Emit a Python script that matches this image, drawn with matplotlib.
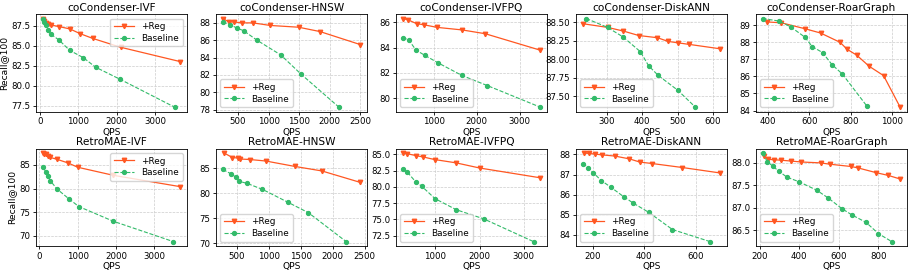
import matplotlib
matplotlib.use("Agg")
import matplotlib.pyplot as plt
from matplotlib.ticker import FormatStrFormatter

titles = ["coCondenser-IVF", "coCondenser-HNSW", "coCondenser-IVFPQ", "coCondenser-DiskANN", "coCondenser-RoarGraph",
          "RetroMAE-IVF", "RetroMAE-HNSW", "RetroMAE-IVFPQ", "RetroMAE-DiskANN", "RetroMAE-RoarGraph"]

# coCondenser-IVF
cc_ivf_reg_x = [80, 120, 170, 220, 280, 490, 780, 1050, 1380, 2100, 3650]
cc_ivf_reg_y = [88.3, 88.1, 87.9, 87.7, 87.6, 87.4, 87.1, 86.5, 85.9, 84.8, 83.0]
cc_ivf_base_x = [80, 110, 150, 220, 300, 500, 780, 1130, 1450, 2080, 3500]
cc_ivf_base_y = [88.4, 88.0, 87.6, 87.0, 86.4, 85.7, 84.4, 83.5, 82.3, 80.8, 77.3]

# coCondenser-HNSW
cc_hnsw_reg_x = [250, 350, 430, 570, 740, 1030, 1490, 1840, 2500]
cc_hnsw_reg_y = [88.5, 88.1, 88.1, 88.0, 88.0, 87.7, 87.5, 87.0, 85.5]
cc_hnsw_base_x = [250, 370, 480, 590, 810, 1200, 1530, 2150]
cc_hnsw_base_y = [88.1, 87.8, 87.4, 87.1, 86.0, 84.3, 82.1, 78.3]

# coCondenser-IVFPQ
cc_ivfpq_reg_x = [280, 400, 600, 780, 1080, 1660, 2200, 3480]
cc_ivfpq_reg_y = [86.3, 86.2, 85.9, 85.8, 85.6, 85.4, 85.1, 83.8]
cc_ivfpq_base_x = [280, 420, 590, 790, 1100, 1660, 2250, 3480]
cc_ivfpq_base_y = [84.8, 84.6, 83.8, 83.4, 82.8, 81.8, 81.0, 79.3]

# coCondenser-DiskANN
cc_disk_reg_x = [232, 302, 347, 390, 443, 473, 502, 532, 620]
cc_disk_reg_y = [88.48, 88.43, 88.38, 88.32, 88.29, 88.24, 88.22, 88.20, 88.14]
cc_disk_base_x = [242, 302, 346, 395, 418, 445, 500, 550]
cc_disk_base_y = [88.55, 88.43, 88.30, 88.10, 87.91, 87.78, 87.58, 87.35]

# coCondenser-RoarGraph
cc_roar_reg_x = [395, 465, 580, 655, 750, 783, 830, 890, 960, 1040]
cc_roar_reg_y = [89.2, 89.15, 88.8, 88.55, 88.0, 87.6, 87.25, 86.6, 86.05, 84.2]
cc_roar_base_x = [375, 455, 512, 580, 615, 665, 710, 760, 880]
cc_roar_base_y = [89.4, 89.25, 88.9, 88.3, 87.75, 87.4, 86.7, 86.15, 84.25]

# RetroMAE-IVF
rm_ivf_reg_x = [90, 130, 170, 230, 270, 450, 750, 1000, 1930, 3680]
rm_ivf_reg_y = [87.5, 87.4, 87.3, 86.9, 86.6, 86.2, 85.4, 84.5, 82.8, 80.4]
rm_ivf_base_x = [100, 160, 220, 280, 460, 760, 1030, 1930, 3500]
rm_ivf_base_y = [84.5, 83.6, 82.6, 81.7, 79.9, 77.9, 76.2, 73.1, 68.8]

# RetroMAE-HNSW
rm_hnsw_reg_x = [300, 430, 510, 550, 700, 950, 1410, 1830, 2430]
rm_hnsw_reg_y = [88.1, 87.2, 87.1, 86.9, 86.8, 86.5, 85.4, 84.5, 82.2]
rm_hnsw_base_x = [280, 410, 490, 540, 660, 900, 1300, 1620, 2210]
rm_hnsw_base_y = [84.8, 83.9, 83.2, 82.4, 82.0, 80.8, 78.2, 76.1, 70.3]

# RetroMAE-IVFPQ
rm_ivfpq_reg_x = [270, 360, 560, 720, 980, 1460, 2000, 3370]
rm_ivfpq_reg_y = [85.2, 85.1, 84.8, 84.6, 84.2, 83.7, 82.9, 81.4]
rm_ivfpq_base_x = [260, 360, 550, 690, 990, 1470, 2090, 3220]
rm_ivfpq_base_y = [82.8, 82.3, 80.8, 80.1, 78.2, 76.5, 75.1, 71.6]

# RetroMAE-DiskANN
rm_disk_reg_x = [165, 185, 207, 234, 285, 342, 383, 430, 549, 696]
rm_disk_reg_y = [88.07, 88.05, 88.02, 87.98, 87.92, 87.78, 87.62, 87.55, 87.35, 87.08]
rm_disk_base_x = [160, 182, 200, 233, 270, 320, 355, 418, 510, 657]
rm_disk_base_y = [87.55, 87.35, 87.1, 86.7, 86.37, 85.9, 85.6, 85.12, 84.27, 83.67]

# RetroMAE-RoarGraph
rm_roar_reg_x = [220, 243, 272, 308, 360, 410, 508, 555, 660, 695, 790, 850, 910]
rm_roar_reg_y = [88.15, 88.08, 88.07, 88.06, 88.04, 88.02, 88.0, 87.97, 87.92, 87.89, 87.78, 87.72, 87.64]
rm_roar_base_x = [215, 238, 268, 298, 338, 398, 488, 545, 615, 665, 738, 800, 868]
rm_roar_base_y = [88.22, 88.03, 87.92, 87.81, 87.68, 87.58, 87.39, 87.22, 86.98, 86.84, 86.67, 86.42, 86.24]

# y tick labels as shown in each panel
yticks = [
    [77.5, 80.0, 82.5, 85.0, 87.5],
    [78, 80, 82, 84, 86, 88],
    [80, 82, 84, 86],
    [87.50, 87.75, 88.00, 88.25, 88.50],
    [84, 85, 86, 87, 88, 89],
    [70, 75, 80, 85],
    [70, 75, 80, 85],
    [72.5, 75.0, 77.5, 80.0, 82.5, 85.0],
    [84, 85, 86, 87, 88],
    [86.5, 87.0, 87.5, 88.0],
]
ytick_fmt = ["%.1f", "%d", "%d", "%.2f", "%d", "%d", "%d", "%.1f", "%d", "%.1f"]

series = [
    (cc_ivf_reg_x, cc_ivf_reg_y, cc_ivf_base_x, cc_ivf_base_y),
    (cc_hnsw_reg_x, cc_hnsw_reg_y, cc_hnsw_base_x, cc_hnsw_base_y),
    (cc_ivfpq_reg_x, cc_ivfpq_reg_y, cc_ivfpq_base_x, cc_ivfpq_base_y),
    (cc_disk_reg_x, cc_disk_reg_y, cc_disk_base_x, cc_disk_base_y),
    (cc_roar_reg_x, cc_roar_reg_y, cc_roar_base_x, cc_roar_base_y),
    (rm_ivf_reg_x, rm_ivf_reg_y, rm_ivf_base_x, rm_ivf_base_y),
    (rm_hnsw_reg_x, rm_hnsw_reg_y, rm_hnsw_base_x, rm_hnsw_base_y),
    (rm_ivfpq_reg_x, rm_ivfpq_reg_y, rm_ivfpq_base_x, rm_ivfpq_base_y),
    (rm_disk_reg_x, rm_disk_reg_y, rm_disk_base_x, rm_disk_base_y),
    (rm_roar_reg_x, rm_roar_reg_y, rm_roar_base_x, rm_roar_base_y),
]

legend_locs = ["upper right", "lower left", "lower left", "lower left", "lower left",
               "upper right", "lower left", "lower left", "lower left", "lower left"]

REG_COLOR = "#FF5722"
BASE_COLOR = "#33BB6A"

fig, axes = plt.subplots(2, 5, figsize=(9.11, 2.71), dpi=100)
fig.subplots_adjust(left=0.0395, right=0.9956, top=0.948, bottom=0.092, wspace=0.19, hspace=0.38)

for i, ax in enumerate(axes.flat):
    rx, ry, bx, by = series[i]
    ax.plot(rx, ry, color=REG_COLOR, linestyle='-', marker='v', markersize=3.2, linewidth=0.9, label='+Reg')
    ax.plot(bx, by, color=BASE_COLOR, linestyle='--', marker='o', markersize=2.8, linewidth=0.8, label='Baseline')
    ax.set_title(titles[i], fontsize=7.6, pad=2.5)
    ax.set_xlabel("QPS", fontsize=6.6, labelpad=1)
    if i % 5 == 0:
        ax.set_ylabel("Recall@100", fontsize=6.6, labelpad=2)
    ylo, yhi = ax.get_ylim()
    ax.set_yticks(yticks[i])
    ax.set_ylim(ylo, yhi)
    ax.yaxis.set_major_formatter(FormatStrFormatter(ytick_fmt[i]))
    ax.tick_params(labelsize=6.2, length=2.5, width=0.6, pad=1.5)
    for s in ax.spines.values():
        s.set_linewidth(0.6)
    ax.grid(True, linestyle='--', color='#cccccc', linewidth=0.5)
    ax.legend(loc=legend_locs[i], fontsize=6.4, handlelength=2.3, borderpad=0.4, labelspacing=0.3)

fig.savefig("out.png", dpi=100)
